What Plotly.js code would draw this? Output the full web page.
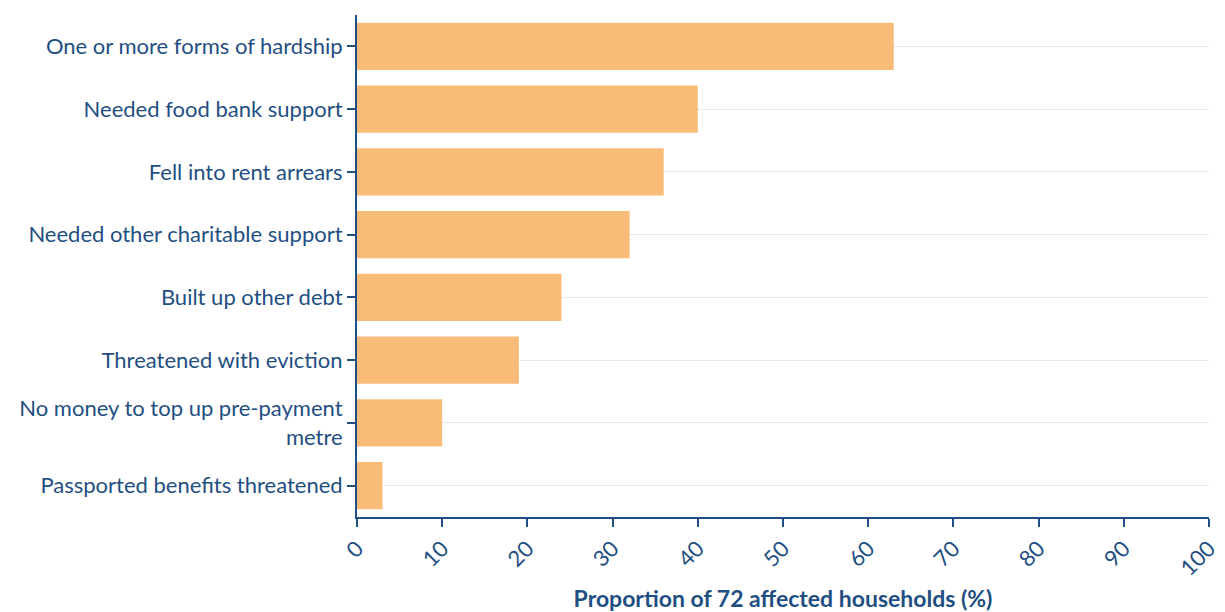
<!DOCTYPE html>
<html>
<head>
<meta charset="utf-8">
<script src="https://cdn.plot.ly/plotly-3.0.1.min.js"></script>
<style>html,body{margin:0;padding:0;background:#fff;}#chart{width:1225px;height:612px;}</style>
</head>
<body>
<div id="chart"></div>
<script>
const categories = [
  "One or more forms of hardship",
  "Needed food bank support",
  "Fell into rent arrears",
  "Needed other charitable support",
  "Built up other debt",
  "Threatened with eviction",
  "No money to top up pre-payment<br>metre",
  "Passported benefits threatened"
];
const values = [63, 40, 36, 32, 24, 19, 10, 3];
const xTicks = [0, 10, 20, 30, 40, 50, 60, 70, 80, 90, 100];

const navy = "#1f4f82";
const trace = {
  type: "bar",
  orientation: "h",
  y: categories,
  x: values,
  marker: {color: "#f9bc78"},
  hoverinfo: "x+y"
};
const layout = {
  width: 1225, height: 612,
  margin: {l: 357, r: 16, t: 15, b: 95},
  paper_bgcolor: "#fff", plot_bgcolor: "#fff",
  font: {family: "Lato, sans-serif", size: 22, color: navy},
  bargap: 0.25,
  showlegend: false,
  xaxis: {
    range: [0, 100],
    tickvals: xTicks,
    ticktext: xTicks.map(String),
    tickangle: -45,
    ticks: "outside", ticklen: 8, tickwidth: 2, tickcolor: navy,
    showline: true, linecolor: navy, linewidth: 2,
    showgrid: false, zeroline: false,
    tickfont: {size: 22, color: navy},
    title: {text: "<b>Proportion of 72 affected households (%)</b>", font: {size: 23, color: navy}, standoff: 30}
  },
  yaxis: {
    autorange: "reversed",
    type: "category",
    ticks: "outside", ticklen: 8, tickwidth: 2, tickcolor: navy,
    showline: true, linecolor: navy, linewidth: 2,
    showgrid: true, gridcolor: "#e8e8e8", gridwidth: 1,
    zeroline: false,
    tickfont: {size: 22, color: navy}
  }
};
Plotly.newPlot("chart", [trace], layout, {displayModeBar: false});
</script>
</body>
</html>
